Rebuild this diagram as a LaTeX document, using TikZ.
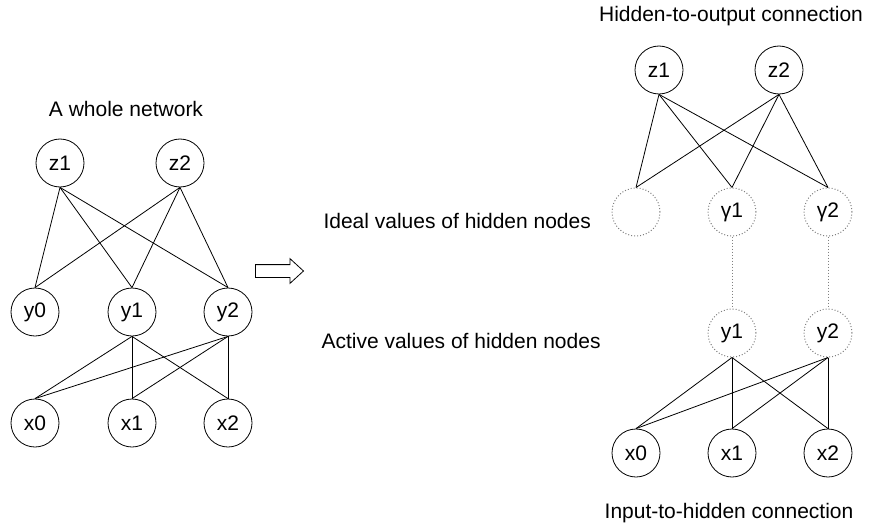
\documentclass[tikz,border=0pt]{standalone}
\usepackage{fontspec}
\setmainfont{Liberation Sans}
\usetikzlibrary{positioning,shapes.arrows}
\tikzset{
  unit/.style={circle, draw, line width=0.8pt, minimum size=48pt, inner sep=0pt},
  ideal/.style={circle, draw=gray, dotted, line width=1pt, minimum size=48pt, inner sep=0pt},
  link/.style={line width=0.8pt},
  tie/.style={draw=gray, dotted, line width=1pt},
}

\begin{document}
\begin{tikzpicture}[x=1pt, y=-1pt, font=\fontsize{21}{25}\selectfont]
  \useasboundingbox (0,0) rectangle (869,532);

  % Whole network
  \node[anchor=base] (ttlwhole) at (126,117) {A whole network};
  \node[unit] (lz1) at (60,163) {z1};
  \node[unit] (lz2) at (180,163) {z2};
  \node[unit] (ly0) at (35,312) {y0};
  \node[unit] (ly1) at (132,312) {y1};
  \node[unit] (ly2) at (228,312) {y2};
  \node[unit] (lx0) at (35,423) {x0};
  \node[unit] (lx1) at (132,423) {x1};
  \node[unit] (lx2) at (228,423) {x2};
  \foreach \a in {lz1,lz2} {
    \foreach \b in {ly0,ly1,ly2} {
      \draw[link] (\a.south) -- (\b.north);
    }
  }
  \foreach \a in {ly1,ly2} {
    \foreach \b in {lx0,lx1,lx2} {
      \draw[link] (\a.south) -- (\b.north);
    }
  }

  % Arrow
  \node[single arrow, draw, line width=0.8pt, inner xsep=0pt, inner ysep=6pt,
        minimum height=48pt, single arrow head extend=6pt,
        single arrow tip angle=85] (split) at (276,271) {};

  % Side labels
  \node[anchor=base west] (ttlideal) at (320,228) {Ideal values of hidden nodes};
  \node[anchor=base west] (ttlactive) at (318,348) {Active values of hidden nodes};

  % Hidden-to-output part
  \node[anchor=base] (ttlupper) at (731,22) {Hidden-to-output connection};
  \node[unit] (rz1) at (659,70) {z1};
  \node[unit] (rz2) at (779,70) {z2};
  \node[ideal] (rh0) at (636,212) {};
  \node[ideal] (rh1) at (732,212) {γ1};
  \node[ideal] (rh2) at (828,212) {γ2};
  \foreach \a in {rz1,rz2} {
    \foreach \b in {rh0,rh1,rh2} {
      \draw[link] (\a.south) -- (\b.north);
    }
  }

  % Input-to-hidden part
  \node[ideal] (ra1) at (732,333) {y1};
  \node[ideal] (ra2) at (828,333) {y2};
  \draw[tie] (rh1.south) -- (ra1.north);
  \draw[tie] (rh2.south) -- (ra2.north);
  \node[unit] (rx0) at (636,453) {x0};
  \node[unit] (rx1) at (732,453) {x1};
  \node[unit] (rx2) at (828,453) {x2};
  \foreach \a in {ra1,ra2} {
    \foreach \b in {rx0,rx1,rx2} {
      \draw[link] (\a.south) -- (\b.north);
    }
  }
  \node[anchor=base] (ttllower) at (729,518) {Input-to-hidden connection};
\end{tikzpicture}
\end{document}
